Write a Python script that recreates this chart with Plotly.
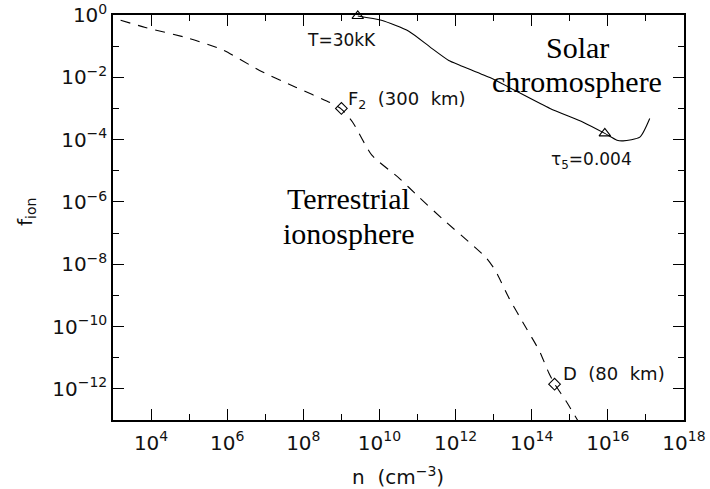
import plotly.graph_objects as go

# Terrestrial ionosphere (dashed): log10 n [cm^-3], log10 f_ion
terr_logn = [3.2, 3.85, 5.0, 5.9, 6.85, 7.8, 8.7, 9.0, 9.3, 9.8, 10.5, 11.05, 11.65,
             12.4, 12.8, 13.05, 13.4, 13.85, 14.2, 14.45, 14.6, 14.9, 15.25]
terr_logf = [-0.17, -0.40, -0.75, -1.13, -1.78, -2.32, -2.81, -3.02, -3.45, -4.5, -5.22,
             -5.86, -6.54, -7.34, -7.79, -8.21, -9.08, -10.04, -10.78, -11.49, -11.84,
             -12.39, -13.1]

# Solar chromosphere (solid)
sol_logn = [9.43, 10.05, 10.77, 11.33, 11.82, 12.11, 12.9, 14.48, 15.35, 15.92, 16.24,
            16.4, 16.84, 17.1]
sol_logf = [-0.03, -0.17, -0.52, -1.03, -1.46, -1.61, -2.01, -3.0, -3.44, -3.80, -4.02,
            -4.04, -3.92, -3.32]

# marked points
diam_logn = [9.0, 14.6]
diam_logf = [-3.0, -11.85]
diam_text = ["F<sub>2</sub>\u00a0\u00a0(300\u00a0\u00a0km)",
             "D\u00a0\u00a0(80\u00a0\u00a0km)"]
tri_logn = [9.43, 15.92]
tri_logf = [-0.03, -3.80]
tri_text = ["T=30kK", "\u03c4<sub>5</sub>=0.004"]

x_ticks = [4, 6, 8, 10, 12, 14, 16, 18]
x_minor = [3, 5, 7, 9, 11, 13, 15, 17]
y_ticks = [0, -2, -4, -6, -8, -10, -12]
y_minor = [-1, -3, -5, -7, -9, -11, -13]


def p10(v):
    return [10.0 ** e for e in v]


def lab(e):
    s = str(e).replace("-", "\u2212")
    return f"10<sup>{s}</sup>"


fig = go.Figure()
fig.add_trace(go.Scatter(x=p10(terr_logn), y=p10(terr_logf), mode="lines",
                         line=dict(color="black", width=1.1, dash="10px,8px",
                                   shape="spline", smoothing=0.6),
                         showlegend=False))
fig.add_trace(go.Scatter(x=p10(sol_logn), y=p10(sol_logf), mode="lines",
                         line=dict(color="black", width=1.1, shape="spline", smoothing=0.6),
                         showlegend=False))
fig.add_trace(go.Scatter(x=p10(diam_logn), y=p10(diam_logf), mode="markers",
                         marker=dict(symbol="diamond-open", size=9, color="black",
                                     line=dict(width=1.1)),
                         cliponaxis=False, showlegend=False))
fig.add_trace(go.Scatter(x=p10(tri_logn), y=p10(tri_logf), mode="markers",
                         marker=dict(symbol="triangle-up-open", size=10, color="black",
                                     line=dict(width=1.1)),
                         cliponaxis=False, showlegend=False))

sans = "DejaVu Sans"
serif = "Liberation Serif"
axis_common = dict(showline=True, linecolor="black", linewidth=1.5, mirror="ticks",
                   ticks="inside", ticklen=11, tickwidth=1.2, tickcolor="black",
                   showgrid=False, zeroline=False, automargin=False,
                   tickfont=dict(family=sans, size=20, color="#111"))

fig.update_xaxes(type="log", range=[3, 18], tickmode="array",
                 tickvals=p10(x_ticks), ticktext=[lab(e) for e in x_ticks],
                 minor=dict(tickvals=p10(x_minor), ticks="inside", ticklen=6,
                            tickwidth=1.2, tickcolor="black"),
                 ticklabelstandoff=4, **axis_common)
fig.update_yaxes(type="log", range=[-13, 0], tickmode="array",
                 tickvals=p10(y_ticks), ticktext=[lab(e) for e in y_ticks],
                 minor=dict(tickvals=p10(y_minor), ticks="inside", ticklen=6,
                            tickwidth=1.2, tickcolor="black"),
                 ticklabelstandoff=0, **axis_common)

ann = []
# marker labels
ann.append(dict(x=tri_logn[0], y=tri_logf[0], xref="x", yref="y", text=tri_text[0],
                showarrow=False, xanchor="center", yanchor="middle", xshift=-16, yshift=-24,
                font=dict(family=sans, size=17, color="#111")))
ann.append(dict(x=tri_logn[1], y=tri_logf[1], xref="x", yref="y", text=tri_text[1],
                showarrow=False, xanchor="center", yanchor="middle", xshift=-13, yshift=-27,
                font=dict(family=sans, size=17, color="#111")))
ann.append(dict(x=diam_logn[0], y=diam_logf[0], xref="x", yref="y", text=diam_text[0],
                showarrow=False, xanchor="left", yanchor="middle", xshift=5, yshift=8,
                font=dict(family=sans, size=18, color="#111")))
ann.append(dict(x=diam_logn[1], y=diam_logf[1], xref="x", yref="y", text=diam_text[1],
                showarrow=False, xanchor="left", yanchor="middle", xshift=6, yshift=11,
                font=dict(family=sans, size=18, color="#111")))


# region labels (paper coords from plot box)
def px(xp):
    return (xp - 113) / 571.0


def py(yp):
    return (420 - yp) / 405.0


for t, xp, yp in [("Solar", 577, 47), ("chromosphere", 577, 82),
                  ("Terrestrial", 348, 198), ("ionosphere", 349, 233)]:
    ann.append(dict(x=px(xp), y=py(yp), xref="paper", yref="paper", text=t, showarrow=False,
                    xanchor="center", yanchor="middle",
                    font=dict(family=serif, size=30, color="black")))
# axis titles
ann.append(dict(x=px(398), y=py(476), xref="paper", yref="paper",
                text="n\u00a0\u00a0(cm<sup>\u22123</sup>)", showarrow=False, xanchor="center",
                yanchor="middle", font=dict(family=sans, size=20, color="#111")))
ann.append(dict(x=px(26), y=py(212), xref="paper", yref="paper",
                text="f<sub>ion</sub>", showarrow=False, xanchor="center", textangle=-90,
                yanchor="middle", font=dict(family=sans, size=20, color="#111")))

fig.update_layout(width=710, height=489, margin=dict(l=113, r=26, t=15, b=69),
                  paper_bgcolor="white", plot_bgcolor="white", annotations=ann)
fig.write_html("out.html")
